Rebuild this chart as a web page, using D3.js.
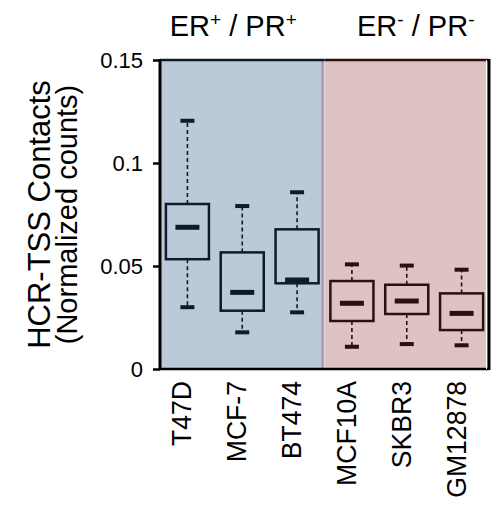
<!DOCTYPE html>
<html>
<head>
<meta charset="utf-8">
<script src="https://cdn.jsdelivr.net/npm/d3@7"></script>
<style>
  html, body { margin: 0; padding: 0; background: #fff; }
  text { font-family: "Liberation Sans", Arial, sans-serif; fill: #000; }
</style>
</head>
<body>
<div id="chart"></div>
<script>
// cell lines and the receptor group they belong to
const cellLines = ['T47D', 'MCF-7', 'BT474', 'MCF10A', 'SKBR3', 'GM12878'];
const groups = ['pos', 'pos', 'pos', 'neg', 'neg', 'neg'];

// box plot statistics (normalized counts)
const whiskerLow  = [0.0300, 0.0178, 0.0275, 0.0108, 0.0121, 0.0115];
const q1          = [0.0533, 0.0283, 0.0416, 0.0233, 0.0267, 0.0189];
const median      = [0.0688, 0.0372, 0.0432, 0.0319, 0.0330, 0.0270];
const q3          = [0.0801, 0.0566, 0.0678, 0.0427, 0.0409, 0.0367];
const whiskerHigh = [0.1205, 0.0791, 0.0858, 0.0508, 0.0502, 0.0482];

const yTicks = [0, 0.05, 0.1, 0.15];
const yTickLabels = ['0', '0.05', '0.1', '0.15'];

const W = 497, H = 508;
const plotL = 160, plotR = 489, plotT = 60, plotB = 369;

const bg = { pos: '#bccad8', neg: '#dfc2c4' };
const ink = { pos: '#0e1b2c', neg: '#2b1012' };

const svg = d3.select('#chart').append('svg')
    .attr('width', W).attr('height', H);

const x = d3.scaleBand().domain(cellLines).range([plotL, plotR]);
const y = d3.scaleLinear().domain([0, 0.15]).range([plotB, plotT]);

const rows = cellLines.map((name, i) => ({
    name, group: groups[i],
    lo: whiskerLow[i], q1: q1[i], med: median[i], q3: q3[i], hi: whiskerHigh[i]
}));

// group backgrounds
const split = x(cellLines[3]);
svg.append('rect').attr('x', plotL).attr('y', plotT)
    .attr('width', split - plotL).attr('height', plotB - plotT).attr('fill', bg.pos);
svg.append('rect').attr('x', split).attr('y', plotT)
    .attr('width', plotR - split).attr('height', plotB - plotT).attr('fill', bg.neg);
svg.append('line').attr('x1', split - 2).attr('x2', split - 2)
    .attr('y1', plotT).attr('y2', plotB)
    .attr('stroke', '#a893a5').attr('stroke-width', 2);

// frame: top in group ink, bottom and right side black
svg.append('line').attr('x1', plotL).attr('x2', split).attr('y1', plotT).attr('y2', plotT)
    .attr('stroke', ink.pos).attr('stroke-width', 2.5);
svg.append('line').attr('x1', split).attr('x2', plotR).attr('y1', plotT).attr('y2', plotT)
    .attr('stroke', ink.neg).attr('stroke-width', 2.5);
svg.append('line').attr('x1', plotL).attr('x2', plotR).attr('y1', plotB).attr('y2', plotB)
    .attr('stroke', '#000').attr('stroke-width', 2.5);
svg.append('line').attr('x1', plotR - 2.5).attr('x2', plotR - 2.5).attr('y1', plotT).attr('y2', plotB)
    .attr('stroke', '#fff').attr('stroke-width', 1);
svg.append('line').attr('x1', plotR).attr('x2', plotR).attr('y1', plotT - 1).attr('y2', plotB + 1)
    .attr('stroke', '#000').attr('stroke-width', 3);

// boxes
const bw = x.bandwidth();
const boxW = bw * 0.785, capW = 14, medW = 24;

const g = svg.selectAll('.box').data(rows).enter().append('g')
    .attr('class', 'box')
    .attr('transform', d => `translate(${x(d.name) + bw / 2},0)`);

g.append('line').attr('y1', d => y(d.q3)).attr('y2', d => y(d.hi))
    .attr('stroke', d => ink[d.group]).attr('stroke-width', 1.6).attr('stroke-dasharray', '4,3');
g.append('line').attr('y1', d => y(d.q1)).attr('y2', d => y(d.lo))
    .attr('stroke', d => ink[d.group]).attr('stroke-width', 1.6).attr('stroke-dasharray', '4,3');
g.append('rect').attr('x', -capW / 2).attr('y', d => y(d.hi) - 2)
    .attr('width', capW).attr('height', 4).attr('fill', d => ink[d.group]);
g.append('rect').attr('x', -capW / 2).attr('y', d => y(d.lo) - 2)
    .attr('width', capW).attr('height', 4).attr('fill', d => ink[d.group]);
g.append('rect').attr('x', -boxW / 2).attr('y', d => y(d.q3))
    .attr('width', boxW).attr('height', d => y(d.q1) - y(d.q3))
    .attr('fill', 'none').attr('stroke', d => ink[d.group]).attr('stroke-width', 2.5);
g.append('rect').attr('x', -medW / 2).attr('y', d => Math.min(y(d.med) - 2.5, y(d.q1) - 5))
    .attr('width', medW).attr('height', 5).attr('fill', d => ink[d.group]);

// y axis
const yAxis = d3.axisLeft(y).tickValues(yTicks)
    .tickFormat((d, i) => yTickLabels[i]).tickSize(7).tickPadding(10);
const ya = svg.append('g').attr('transform', `translate(${plotL},0)`).call(yAxis);
ya.select('.domain').attr('stroke', '#000').attr('stroke-width', 3)
    .attr('d', `M0,${plotT - 1}V${plotB + 1}`);
ya.selectAll('.tick line').attr('stroke', '#000').attr('stroke-width', 2.5);
ya.selectAll('.tick text').style('font-size', '22px').attr('fill', '#000');

// x labels, rotated
svg.selectAll('.xlab').data(cellLines).enter().append('text')
    .attr('class', 'xlab')
    .attr('transform', d => `translate(${x(d) + bw / 2 + 4},381) rotate(-90) scale(0.95,1)`)
    .attr('text-anchor', 'end')
    .style('font-size', '28px')
    .text(d => d);

// y title
const midY = (plotT + plotB) / 2;
svg.append('text').attr('transform', `translate(50,${midY}) rotate(-90)`)
    .attr('text-anchor', 'middle').style('font-size', '31px').text('HCR-TSS Contacts');
svg.append('text').attr('transform', `translate(77,${midY}) rotate(-90)`)
    .attr('text-anchor', 'middle').style('font-size', '29px').text('(Normalized counts)');

// group titles
function groupTitle(cx, sign) {
    const t = svg.append('text').attr('x', cx).attr('y', 36)
        .attr('text-anchor', 'middle').style('font-size', '29px');
    t.append('tspan').text('ER');
    t.append('tspan').attr('dy', -10).style('font-size', '19px').text(sign);
    t.append('tspan').attr('dy', 10).text(' / PR');
    t.append('tspan').attr('dy', -10).style('font-size', '19px').text(sign);
}
groupTitle((plotL + split) / 2 - 9, '+');
groupTitle((split + plotR) / 2 + 9, '-');
</script>
</body>
</html>
